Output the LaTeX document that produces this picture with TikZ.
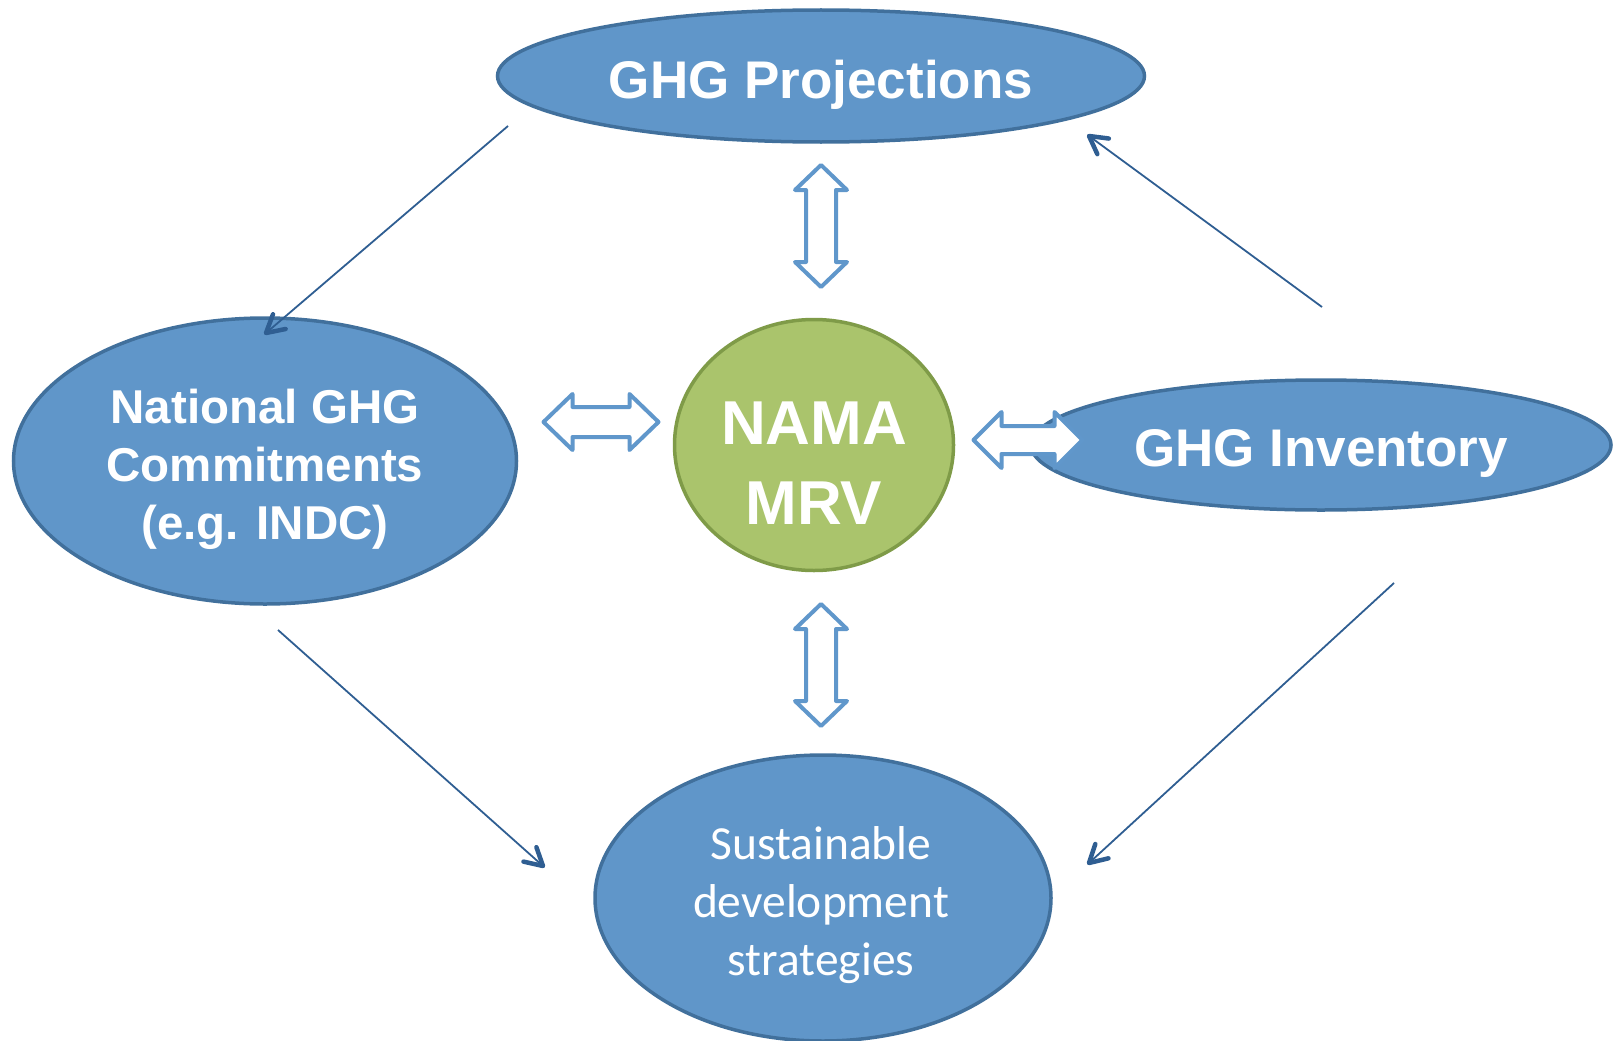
\documentclass[tikz,border=0pt]{standalone}
\usepackage{fontspec}
\setmainfont{Liberation Sans}
\newfontfamily\calfont{Carlito}
\usetikzlibrary{shapes.geometric,calc}
\definecolor{ellfill}{HTML}{6096C9}
\definecolor{elldraw}{HTML}{41709C}
\definecolor{grnfill}{HTML}{AAC46C}
\definecolor{grndraw}{HTML}{7F9B48}
\definecolor{dblcol}{HTML}{6097CB}
\definecolor{thincol}{HTML}{2F5E92}
\tikzset{
  blueell/.style={ellipse, draw=elldraw, fill=ellfill, line width=3.5pt, inner sep=0pt},
  greenell/.style={ellipse, draw=grndraw, fill=grnfill, line width=3.5pt, inner sep=0pt},
  elltext/.style={text=white, align=center, inner sep=0pt},
  thinarrow/.style={draw=thincol, line width=1.8pt},
  barbhead/.style={draw=thincol, line width=4.5pt, line cap=round, line join=round},
  dblarrow/.style={draw=dblcol, fill=white, line width=4pt, line join=round},
}
\newcommand{\mydbl}[7]{% cx cy angle length headlen headwidth shaftwidth
  \begin{scope}[shift={(#1,#2)}, rotate=#3]
    \draw[dblarrow] (-#4/2,0) -- (-#4/2+#5,#6/2) -- (-#4/2+#5,#7/2) -- (#4/2-#5,#7/2) -- (#4/2-#5,#6/2) -- (#4/2,0) -- (#4/2-#5,-#6/2) -- (#4/2-#5,-#7/2) -- (-#4/2+#5,-#7/2) -- (-#4/2+#5,-#6/2) -- cycle;
  \end{scope}}
\newcommand{\myconn}[2]{%
  \draw[thinarrow] (#1) -- (#2);
  \draw[barbhead] ($(#2)!20pt!29:(#1)$) -- (#2) -- ($(#2)!20pt!-29:(#1)$);}
\begin{document}
\begin{tikzpicture}[x=1pt,y=-1pt]
\useasboundingbox (0,0) rectangle (1614,1041);
% ellipses
\node[blueell, minimum width=647pt, minimum height=132pt] (proj) at (821,76) {};
\node[elltext, font=\bfseries\fontsize{53}{60}\selectfont] (projtxt) at (821,85) {GHG Projections};
\node[blueell, minimum width=503pt, minimum height=286pt] (nat) at (265,461) {};
\node[elltext, font=\bfseries\fontsize{47.5}{58}\selectfont] (nattxt) at (265,469) {National GHG\\ Commitments\\ (e.g. INDC)};
\node[greenell, minimum width=279pt, minimum height=251pt] (nama) at (814,445) {};
\node[elltext, font=\bfseries\fontsize{62}{80}\selectfont] (namatxt) at (814,463) {NAMA\\MRV};
\node[blueell, minimum width=580pt, minimum height=130pt] (inv) at (1321,445) {};
\node[elltext, font=\bfseries\fontsize{53}{60}\selectfont] (invtxt) at (1321,453) {GHG Inventory};
\node[blueell, minimum width=456pt, minimum height=286pt] (sus) at (823,898) {};
\node[elltext, font=\calfont\fontsize{47.5}{58}\selectfont] (sustxt) at (821,905) {Sustainable\\ development\\ strategies};
% double arrows
\mydbl{821}{226}{90}{122}{25}{52}{30}
\mydbl{821}{665}{90}{122}{25}{52}{30}
\mydbl{601}{422}{0}{115}{29}{56}{30}
\mydbl{1028}{440}{0}{109}{28}{56}{28}
% thin arrows
\coordinate (a1s) at (508,126); \coordinate (a1e) at (266,333);
\coordinate (a2s) at (1322,307); \coordinate (a2e) at (1089,136);
\coordinate (a3s) at (278,630); \coordinate (a3e) at (543,866);
\coordinate (a4s) at (1394,583); \coordinate (a4e) at (1089,863);
\myconn{a1s}{a1e}
\myconn{a2s}{a2e}
\myconn{a3s}{a3e}
\myconn{a4s}{a4e}
\end{tikzpicture}
\end{document}
